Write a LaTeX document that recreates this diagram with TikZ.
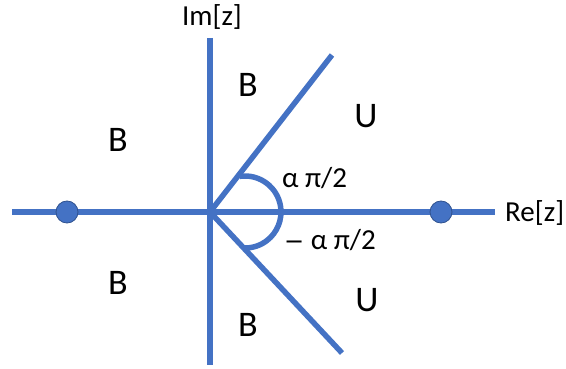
\documentclass[tikz,border=0pt]{standalone}
\usepackage{fontspec}
\setmainfont{Carlito}
\newfontfamily\symfont{DejaVu Sans}
\definecolor{axisblue}{HTML}{4472C4}
\definecolor{dotedge}{HTML}{2F528F}

\begin{document}
\begin{tikzpicture}[x=1pt, y=-1pt,
  axis/.style={line width=5.5pt, draw=axisblue},
  pole/.style={circle, fill=axisblue, draw=dotedge, line width=0.8pt, minimum size=22pt, inner sep=0pt},
  region/.style={inner sep=0pt, font=\fontsize{36}{40}\selectfont},
  lbl/.style={inner sep=0pt, font=\fontsize{29}{32}\selectfont}]
  \useasboundingbox (0,0) rectangle (566,369);
  \coordinate (o) at (210,212);
  \coordinate (west) at (12,212);
  \coordinate (east) at (495,212);
  \coordinate (north) at (210,38);
  \coordinate (south) at (210,365);
  \coordinate (up) at (332,55);
  \coordinate (down) at (342,353);
  \draw[axis] (west) -- (east);
  \draw[axis] (north) -- (south);
  \draw[axis] (o) -- (up);
  \draw[axis] (o) -- (down);
  \draw[axis] (245,212) ++(-98:36) arc[start angle=-98, end angle=90, radius=36];
  \node[pole] (left pole) at (67,212) {};
  \node[pole] (right pole) at (441,212) {};
  \node[lbl, anchor=base] (im) at (212,26) {Im[z]};
  \node[lbl, anchor=base west] (re) at (505,222) {Re[z]};
  \node[lbl, anchor=base west] (plus) at (282,188) {α π/2};
  \node[lbl, anchor=base west] (minus) at (284,250) {{\symfont\fontsize{24}{28}\selectfont −} α π/2};
  \node[region] (b1) at (118,140) {B};
  \node[region] (b2) at (248,85) {B};
  \node[region] (b3) at (118,283) {B};
  \node[region] (b4) at (248,325) {B};
  \node[region] (u1) at (366,116) {U};
  \node[region] (u2) at (367,300) {U};
\end{tikzpicture}
\end{document}
